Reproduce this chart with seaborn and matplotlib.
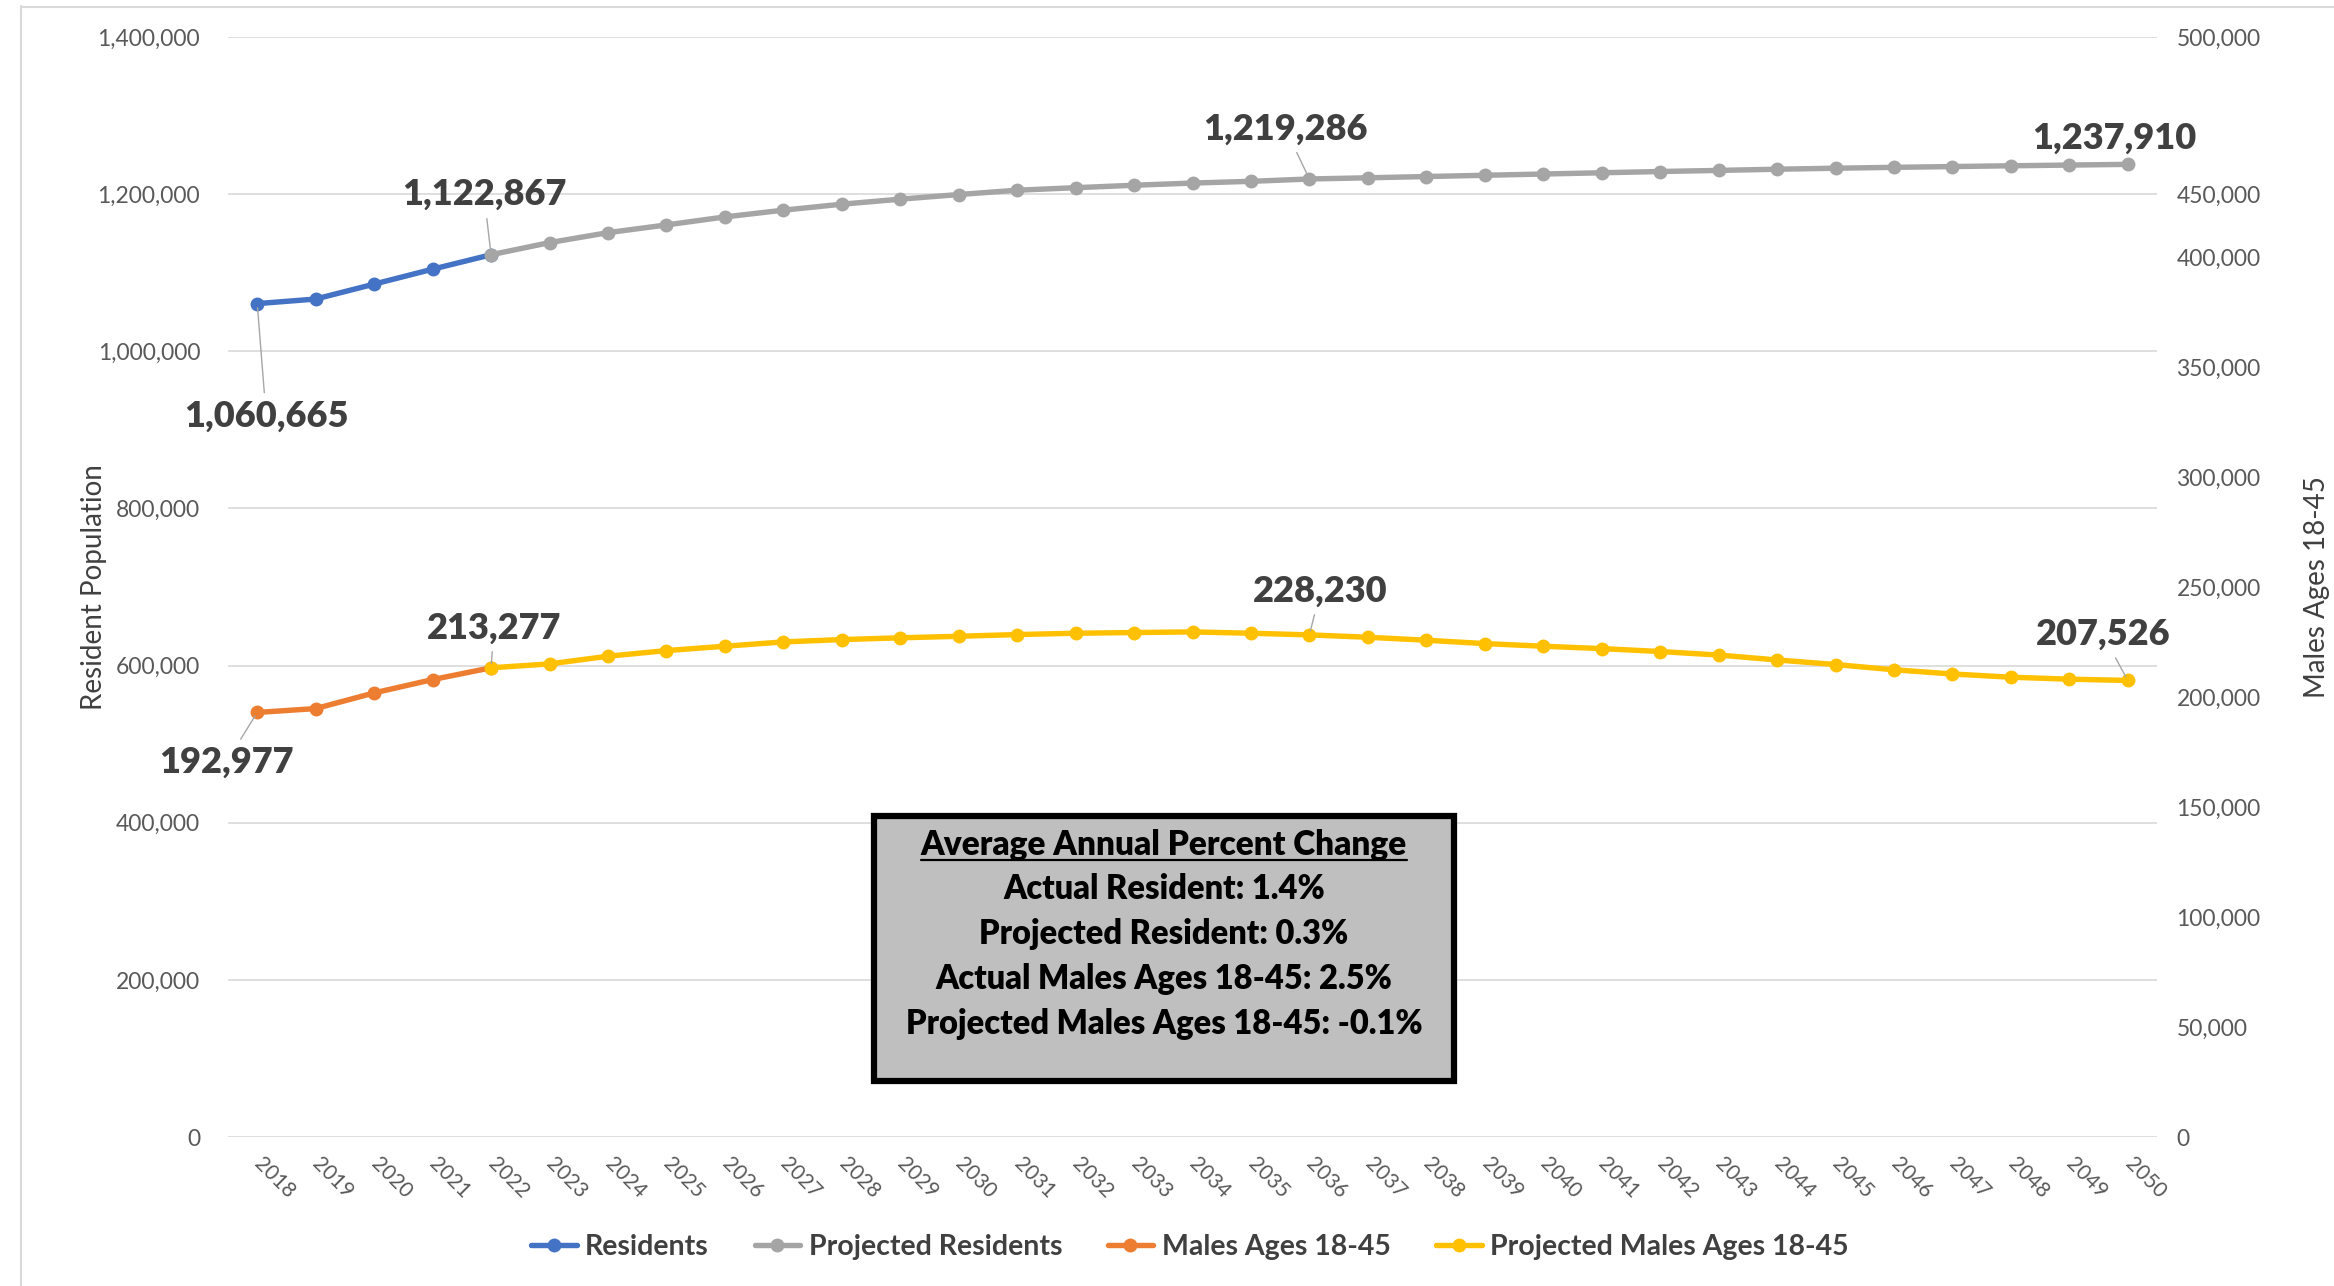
import matplotlib
matplotlib.use("Agg")
import matplotlib.pyplot as plt
from matplotlib.lines import Line2D
from matplotlib.patches import Rectangle
import seaborn as sns

# ---------------- data ----------------
years = list(range(2018, 2051))
actual_years = list(range(2018, 2023))
proj_years = list(range(2022, 2051))

residents = [1060665, 1066500, 1085500, 1104500, 1122867]
projected_residents = [1122867, 1138300, 1151000, 1160800, 1171000, 1179600, 1187200,
                       1193600, 1199500, 1205000, 1208200, 1211300, 1214100, 1216300,
                       1219286, 1220800, 1222400, 1224000, 1225600, 1227200, 1228800,
                       1230200, 1231700, 1233000, 1234100, 1235100, 1236100, 1237000,
                       1237910]
males = [192977, 194740, 201860, 207920, 213277]
projected_males = [213277, 215040, 218530, 221100, 223070, 225040, 226100, 226900,
                   227600, 228380, 228980, 229290, 229590, 228980, 228230, 227160,
                   225800, 224280, 223070, 222000, 220670, 219070, 216840, 214760,
                   212370, 210460, 209000, 208100, 207526]

left_ticks = [0, 200000, 400000, 600000, 800000, 1000000, 1200000, 1400000]
right_ticks = [0, 50000, 100000, 150000, 200000, 250000, 300000, 350000, 400000, 500000]
right_misplaced_label = "450,000"   # in the original it sits on the 1,200,000 gridline

series_names = ["Residents", "Projected Residents", "Males Ages 18-45", "Projected Males Ages 18-45"]
colors = ["#4472C4", "#A5A5A5", "#ED7D31", "#FFC000"]

box_title = "Average Annual Percent Change"
box_lines = ["Actual Resident: 1.4%", "Projected Resident: 0.3%",
             "Actual Males Ages 18-45: 2.5%", "Projected Males Ages 18-45: -0.1%"]

# ---------------- style ----------------
sns.set_theme(style="white")
plt.rcParams["font.family"] = ["Lato", "DejaVu Sans"]

W, H = 2334, 1286
fig = plt.figure(figsize=(W / 100, H / 100), dpi=100)
fig.patch.set_facecolor("white")

ax = fig.add_axes([228 / W, 1 - 1137 / H, (2157 - 228) / W, (1137 - 37) / H])
ax2 = ax.twinx()

lw = 3.9
ms = 10
line_kw = dict(marker="o", markersize=ms, markeredgewidth=0, linewidth=lw, legend=False)

sns.lineplot(x=actual_years, y=residents, ax=ax, color=colors[0], label=series_names[0], **line_kw)
sns.lineplot(x=proj_years, y=projected_residents, ax=ax, color=colors[1], label=series_names[1], **line_kw)
sns.lineplot(x=actual_years, y=males, ax=ax2, color=colors[2], label=series_names[2], **line_kw)
sns.lineplot(x=proj_years, y=projected_males, ax=ax2, color=colors[3], label=series_names[3], **line_kw)

ax.set_xlim(years[0] - 0.5, years[-1] + 0.5)
ax.set_ylim(0, 1400000)
ax2.set_ylim(0, 500000)

# grid
ax.set_yticks(left_ticks)
ax.yaxis.grid(True, color="#D9D9D9", linewidth=1.2)
ax.xaxis.grid(False)
ax2.grid(False)
for a in (ax, ax2):
    for s in a.spines.values():
        s.set_visible(False)
    a.set_facecolor("none")

tick_color = "#595959"
ax.set_yticklabels([f"{v:,}" for v in left_ticks], fontsize=16.5, color=tick_color)
ax.tick_params(axis="y", length=0, pad=20)

# right axis: replicate the labels as drawn in the reference
mis_pos = 1200000 * 500000 / 1400000
r_pos = right_ticks[:-1] + [mis_pos, right_ticks[-1]]
r_lab = [f"{v:,}" for v in right_ticks[:-1]] + [right_misplaced_label, f"{right_ticks[-1]:,}"]
ax2.set_yticks(r_pos)
ax2.set_yticklabels(r_lab, fontsize=16.5, color=tick_color)
ax2.tick_params(axis="y", length=0, pad=14)

ax.set_xticks(years)
ax.set_xticklabels([str(y) for y in years], fontsize=15, color=tick_color,
                   rotation=-45, ha="left", va="center", rotation_mode="anchor")
ax.tick_params(axis="x", length=0, pad=17)
ax.set_xlabel("")

ax.set_ylabel("Resident Population", fontsize=20, color="#404040", labelpad=-7)
ax2.set_ylabel("Males Ages 18-45", fontsize=20, color="#404040", labelpad=31)

# data labels
lab_kw = dict(fontsize=26, fontweight="heavy", color="#404040", ha="center", va="center",
              textcoords="offset pixels",
              arrowprops=dict(arrowstyle="-", color="#A6A6A6", lw=1.0, shrinkA=3, shrinkB=3))

def label(axis, x, v, dx, dy):
    axis.annotate(f"{v:,}", xy=(x, v), xytext=(dx, dy), **lab_kw)

label(ax, actual_years[0], residents[0], 9, -113)
label(ax, actual_years[-1], residents[-1], -7, 60)
i36 = proj_years.index(2036)
label(ax, proj_years[i36], projected_residents[i36], -24, 50)
label(ax, proj_years[-1], projected_residents[-1], -13, 26)
label(ax2, actual_years[0], males[0], -31, -50)
label(ax2, actual_years[-1], males[-1], 3, 40)
label(ax2, proj_years[i36], projected_males[i36], 11, 44)
label(ax2, proj_years[-1], projected_males[-1], -25, 46)

# legend
handles = [Line2D([0], [0], color=c, lw=lw, marker="o", markersize=ms, markeredgewidth=0)
           for c in colors]
fig.legend(handles, series_names, loc="center", bbox_to_anchor=(1190 / W, 1 - 1247 / H),
           ncol=4, frameon=False, handlelength=1.6, handletextpad=0.3, columnspacing=1.6,
           prop={"size": 20.5, "weight": "bold"}, labelcolor="#404040")

# text box
bx0, by0, bx1, by1 = 874, 816, 1454, 1081
fig.add_artist(Rectangle((bx0 / W, 1 - by1 / H), (bx1 - bx0) / W, (by1 - by0) / H,
                         transform=fig.transFigure, facecolor="#BFBFBF",
                         edgecolor="black", linewidth=4.5, zorder=5))
cx = (bx0 + bx1) / 2 / W
t_title = fig.text(cx, 1 - 845 / H, box_title, ha="center", va="center", fontsize=24,
                   fontweight="heavy", color="black", zorder=6)
for yy, txt in zip([889, 934, 979, 1024], box_lines):
    fig.text(cx, 1 - yy / H, txt, ha="center", va="center", fontsize=23.5,
             fontweight="heavy", color="black", zorder=6)

fig.canvas.draw()
bb = t_title.get_window_extent(renderer=fig.canvas.get_renderer())
uy = (bb.y0 + 1) / H
fig.add_artist(Line2D([bb.x0 / W, bb.x1 / W], [uy, uy], transform=fig.transFigure,
                      color="black", lw=1.6, zorder=6))

# chart border (left and top edges visible)
fig.add_artist(Line2D([21 / W, 21 / W], [0, 1 - 6 / H], transform=fig.transFigure,
                      color="#D9D9D9", lw=1.5))
fig.add_artist(Line2D([21 / W, 1], [1 - 7 / H, 1 - 7 / H], transform=fig.transFigure,
                      color="#D9D9D9", lw=1.5))

fig.savefig("out.png", dpi=100, facecolor="white")
